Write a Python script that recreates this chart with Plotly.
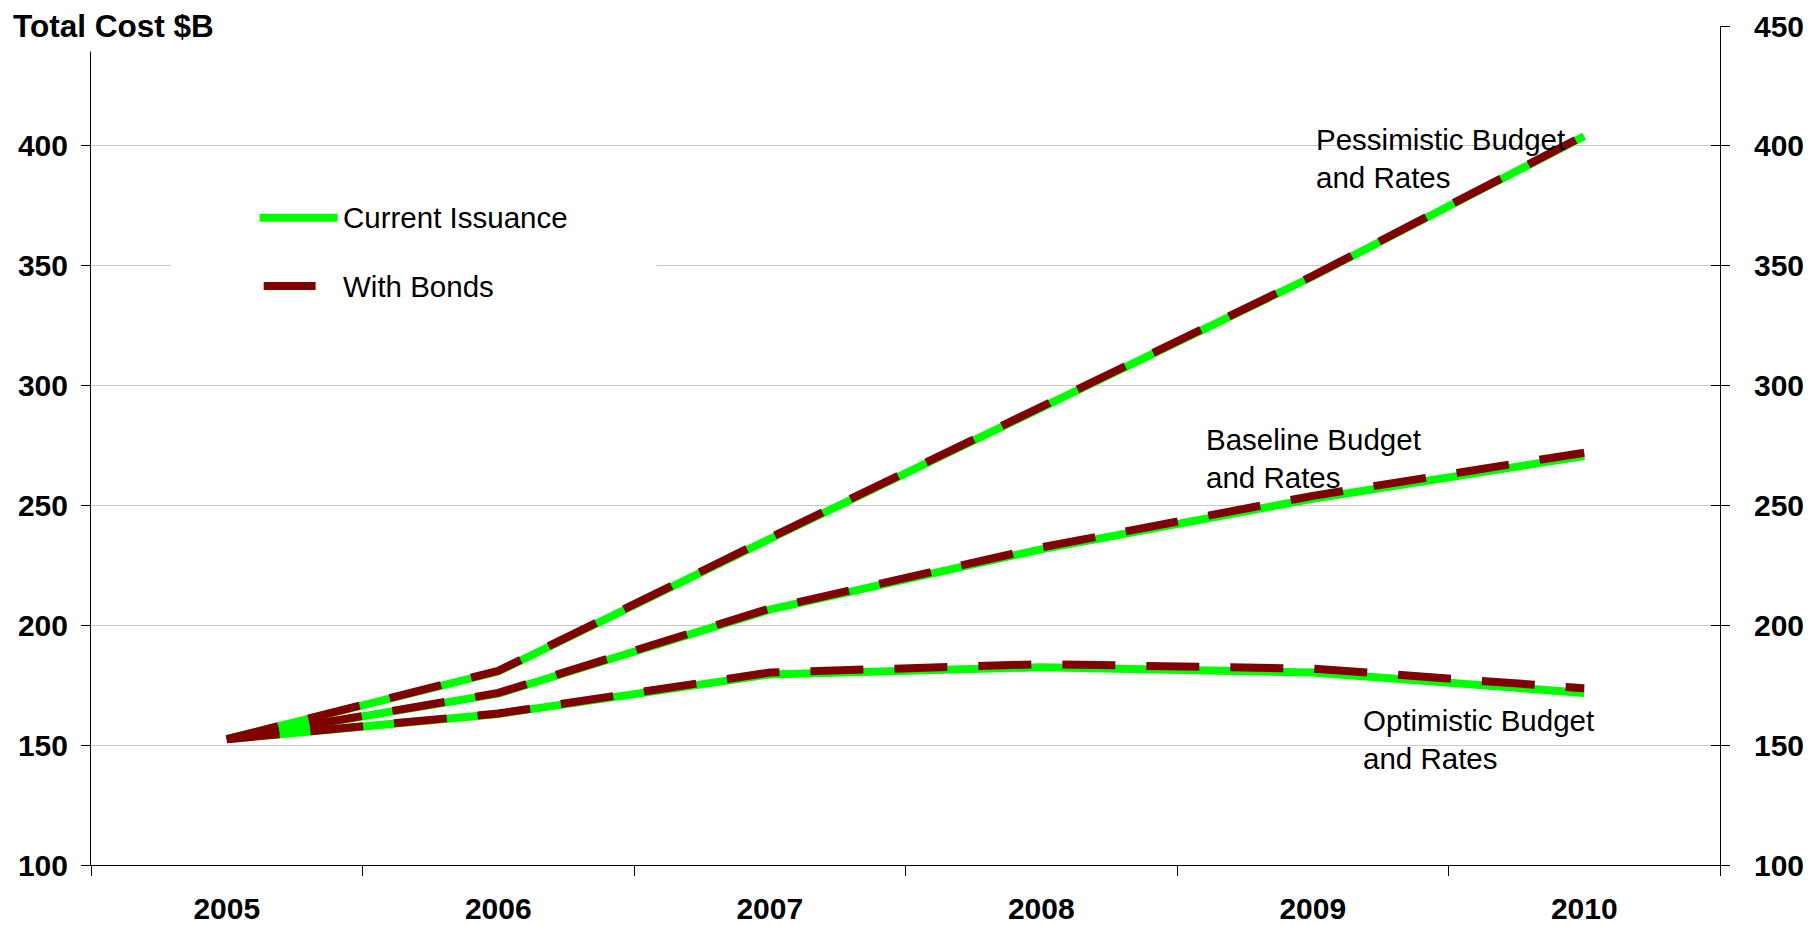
import plotly.graph_objects as go

years = ["2005", "2006", "2007", "2008", "2009", "2010"]

pess_current = [152.5, 180.7, 236.0, 291.0, 345.5, 404.0]
pess_bonds = [152.5, 181.0, 236.5, 291.3, 345.8, 404.3]
base_current = [152.5, 171.5, 206.5, 231.7, 252.8, 270.6]
base_bonds = [152.5, 171.8, 207.0, 232.5, 254.0, 272.0]
opt_current = [152.5, 163.0, 179.5, 182.5, 180.3, 171.8]
opt_bonds = [152.5, 163.2, 180.3, 183.8, 181.9, 173.7]

y_ticks_left = [100, 150, 200, 250, 300, 350, 400, 450]
y_ticks_left_text = ["100", "150", "200", "250", "300", "350", "400", ""]
y_ticks_right = [100, 150, 200, 250, 300, 350, 400, 450]

series_labels = ["Current Issuance", "With Bonds"]
scenario_labels = [
    "Pessimistic Budget<br>and Rates",
    "Baseline Budget<br>and Rates",
    "Optimistic Budget<br>and Rates",
]
axis_title = "Total Cost $B"

GREEN = "#00FF00"
DARK = "#800000"
FONT = "Liberation Sans, Arial, sans-serif"

fig = go.Figure()

for ys in [pess_current, base_current, opt_current]:
    fig.add_trace(go.Scatter(x=years, y=ys, mode="lines",
                             line=dict(color=GREEN, width=8),
                             showlegend=False, hoverinfo="skip"))
for ys in [pess_bonds, base_bonds, opt_bonds]:
    fig.add_trace(go.Scatter(x=years, y=ys, mode="lines",
                             line=dict(color=DARK, width=8, dash="53px,31px"),
                             showlegend=False, hoverinfo="skip"))

# invisible helpers so the right-hand axes render
fig.add_trace(go.Scatter(x=years, y=pess_current, yaxis="y2", mode="lines",
                         opacity=0, showlegend=False, hoverinfo="skip"))
fig.add_trace(go.Scatter(x=years, y=pess_current, yaxis="y3", mode="lines",
                         opacity=0, showlegend=False, hoverinfo="skip"))

tickfont = dict(family=FONT, size=30, color="black", weight="bold")

fig.update_layout(
    width=1814, height=925,
    margin=dict(l=83, r=102, t=18, b=68, autoexpand=False),
    paper_bgcolor="white", plot_bgcolor="white",
    showlegend=False,
    xaxis=dict(type="category", categoryorder="array", categoryarray=years,
               range=[-0.5, 5.5], tickson="boundaries", ticks="outside",
               ticklen=10, tickcolor="black", showline=True, linecolor="black",
               linewidth=1, showgrid=False, zeroline=False, tickfont=tickfont,
               ticklabelstandoff=17),
    yaxis=dict(range=[100, 450], tickvals=y_ticks_left, ticktext=y_ticks_left_text,
               ticks="outside", ticklen=9, tickcolor="black", showline=True,
               linecolor="black", linewidth=1, showgrid=True, gridcolor="#C8C8C8",
               gridwidth=1, zeroline=False, tickfont=tickfont, ticklabelstandoff=7),
    yaxis2=dict(range=[100, 450], overlaying="y", side="right", anchor="x",
                tickvals=y_ticks_right, ticks="outside", ticklen=9,
                tickcolor="black", showline=True, linecolor="black", linewidth=1,
                showgrid=False, zeroline=False, tickfont=tickfont,
                ticklabelstandoff=18),
    yaxis3=dict(range=[100, 450], overlaying="y", side="right", anchor="x",
                tickvals=y_ticks_right, ticks="inside", ticklen=9,
                tickcolor="black", showline=False, showgrid=False,
                zeroline=False, showticklabels=False),
)

shapes = [
    # white box behind axis title
    dict(type="rect", xref="paper", yref="paper", x0=-0.06, x1=0.079,
         y0=0.9696, y1=1.04, fillcolor="white", line=dict(width=0), layer="above"),
    # white legend box
    dict(type="rect", xref="paper", yref="y", x0=0.049, x1=0.347,
         y0=322, y1=393, fillcolor="white", line=dict(width=0), layer="above"),
    # legend samples
    dict(type="line", xref="paper", yref="y", x0=0.1035, x1=0.1514,
         y0=370, y1=370, line=dict(color=GREEN, width=8), layer="above"),
    dict(type="line", xref="paper", yref="y", x0=0.106, x1=0.1379,
         y0=341.5, y1=341.5, line=dict(color=DARK, width=8), layer="above"),
]
fig.update_layout(shapes=shapes)

annfont = dict(family=FONT, size=29.5, color="black")
annotations = [
    dict(text=axis_title, xref="paper", yref="paper", x=-0.0485, y=1.0,
         xanchor="left", yanchor="middle", showarrow=False, borderpad=0,
         font=dict(family=FONT, size=31.5, color="black", weight="bold")),
    dict(text=series_labels[0], xref="paper", yref="y", x=0.1535, y=370,
         xanchor="left", yanchor="middle", showarrow=False, font=annfont),
    dict(text=series_labels[1], xref="paper", yref="y", x=0.1535, y=341.5,
         xanchor="left", yanchor="middle", showarrow=False, font=annfont),
    dict(text=scenario_labels[0], xref="paper", yref="y", x=0.7505, y=394.8,
         xanchor="left", yanchor="middle", showarrow=False, font=annfont, align="left"),
    dict(text=scenario_labels[1], xref="paper", yref="y", x=0.683, y=269.4,
         xanchor="left", yanchor="middle", showarrow=False, font=annfont, align="left"),
    dict(text=scenario_labels[2], xref="paper", yref="y", x=0.7795, y=152.5,
         xanchor="left", yanchor="middle", showarrow=False, font=annfont, align="left"),
]
fig.update_layout(annotations=annotations)

fig.write_html("out.html")
